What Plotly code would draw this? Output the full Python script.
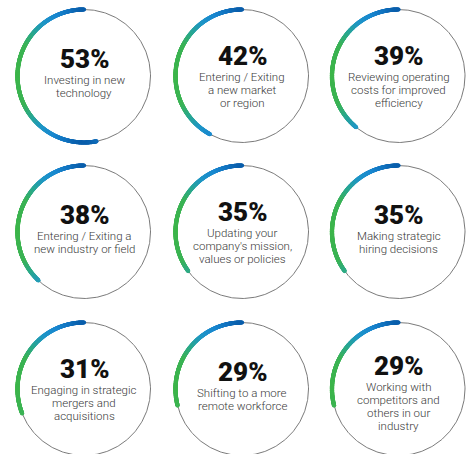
import numpy as np
import plotly.graph_objects as go

values = [53, 42, 39, 38, 35, 35, 31, 29, 29]
labels = [
    "Investing in new|technology",
    "Entering / Exiting|a new market|or region",
    "Reviewing operating|costs for improved|efficiency",
    "Entering / Exiting a|new industry or field",
    "Updating your|company's mission,|values or policies",
    "Making strategic|hiring decisions",
    "Engaging in strategic|mergers and|acquisitions",
    "Shifting to a more|remote workforce",
    "Working with|competitors and|others in our|industry",
]

W, H = 470, 454
col_x = [84, 242, 398.5]
row_y = [76, 232, 389]
R = 66.5

colorscale = [
    [0.0, "#3db54a"],
    [0.45, "#3bb356"],
    [0.62, "#2aa88e"],
    [0.78, "#1f96c6"],
    [0.9, "#1a88d0"],
    [0.97, "#1273bf"],
    [1.0, "#0a5eab"],
]

fig = go.Figure()
annotations = []
for i, (v, lab) in enumerate(zip(values, labels)):
    cx = col_x[i % 3]
    cy = row_y[i // 3]
    # outline circle
    t = np.linspace(0, 2 * np.pi, 361)
    fig.add_trace(go.Scatter(
        x=cx + R * np.cos(t), y=cy + R * np.sin(t), mode="lines",
        line=dict(color="#6b6b6b", width=0.9), hoverinfo="skip", showlegend=False))
    # gradient arc
    n = int(v * 3.6 * 3) + 1
    th = np.linspace(0, v / 100 * 2 * np.pi, n)
    ax = cx - R * np.sin(th)
    ay = cy - R * np.cos(th)
    fig.add_trace(go.Scatter(
        x=ax, y=ay, mode="markers",
        marker=dict(size=4.2, color=np.abs(np.cos(th)), colorscale=colorscale,
                    cmin=0, cmax=1, line=dict(width=0)),
        hoverinfo="skip", showlegend=False))
    lines = lab.split("|")
    nl = len(lines)
    py = cy - 11 - 3 * nl
    annotations.append(dict(
        x=cx, y=py, xref="x", yref="y", text=f"{v}%", showarrow=False,
        xanchor="center", yanchor="middle",
        font=dict(family="Roboto", size=26, color="#111111", weight=900)))
    for j, ln in enumerate(lines):
        annotations.append(dict(
            x=cx, y=py + 21 + 13 * j, xref="x", yref="y", text=ln, showarrow=False,
            xanchor="center", yanchor="middle",
            font=dict(family="Roboto", size=11.5, color="#3a3a3a", weight=300)))

fig.update_layout(
    width=W, height=H, margin=dict(l=0, r=0, t=0, b=0),
    paper_bgcolor="white", plot_bgcolor="white",
    xaxis=dict(range=[0, W], visible=False, fixedrange=True),
    yaxis=dict(range=[H, 0], visible=False, fixedrange=True),
    annotations=annotations,
)
fig.write_html("out.html")
